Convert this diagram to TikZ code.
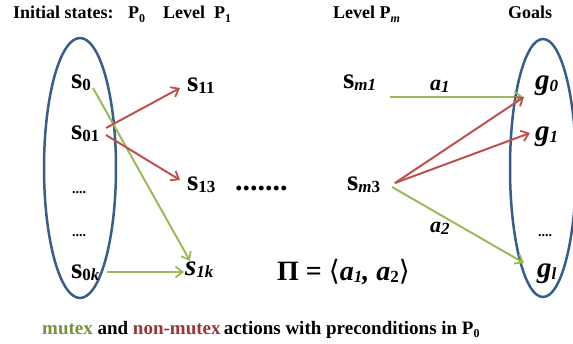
\documentclass[tikz,border=0pt]{standalone}
\usepackage{fontspec}
\setmainfont{Liberation Serif}
\newfontfamily\djv{DejaVu Sans}
\usetikzlibrary{arrows.meta,shapes.geometric,calc}
\definecolor{ogreen}{RGB}{155,187,89}
\definecolor{ored}{RGB}{192,80,77}
\definecolor{oblue}{RGB}{56,93,138}
\definecolor{tgreen}{RGB}{118,146,60}
\definecolor{tred}{RGB}{149,55,53}
\newcommand{\bigS}{\fontsize{29}{29}\selectfont}
\newcommand{\subS}[1]{\raisebox{-2.5pt}{\fontsize{17}{17}\selectfont #1}}
\newcommand{\ttl}{\fontsize{18}{18}\selectfont}
\newcommand{\ttlsub}[1]{\raisebox{-3.5pt}{\fontsize{12}{12}\selectfont #1}}
\begin{document}
\begin{tikzpicture}[x=1pt,y=-1pt,
  txt/.style={inner sep=0pt, anchor=base west, font=\bfseries},
  ell/.style={draw=oblue, line width=2.5pt, ellipse, inner sep=0pt},
  arr/.style={line width=2pt, -{Straight Barb[length=7pt,width=11pt,line width=1.8pt]}},
  garr/.style={arr, draw=ogreen},
  rarr/.style={arr, draw=ored}]
\useasboundingbox (0,0) rectangle (573,343);
% ellipses
\node[ell, minimum width=72pt, minimum height=260pt] (P0) at (80,168) {};
\node[ell, minimum width=66pt, minimum height=258pt] (G) at (543,168) {};
% title
\node[txt] (t1) at (13,18.5) {\ttl Initial states:};
\node[txt] (t2) at (128,18.5) {\ttl P\ttlsub{0}};
\node[txt] (t3) at (163,18.5) {\ttl Level\ \ P\ttlsub{1}};
\node[txt] (t4) at (333,18.5) {\ttl Level P\ttlsub{\itshape m}};
\node[txt] (t5) at (508,18.5) {\ttl Goals};
% P0 states
\node[txt] (s0) at (71,88) {\bigS s\subS{0}};
\node[txt] (s01) at (71,139) {\bigS s\subS{01}};
\node[txt] (d1) at (72,193) {\fontsize{14}{14}\selectfont ....};
\node[txt] (d2) at (72,236) {\fontsize{14}{14}\selectfont ....};
\node[txt] (s0k) at (71,278) {\bigS s\subS{0\itshape k}};
% level 1
\node[txt] (s11) at (187,91) {\bigS s\subS{11}};
\node[txt] (s13) at (187,190) {\bigS s\subS{13}};
\node[txt] (s1k) at (185,275) {\bigS\itshape s\subS{\itshape 1k}};
\node[txt] (dots) at (235,190) {\fontsize{30}{30}\selectfont .......};
% level m
\node[txt] (sm1) at (343,88) {\bigS s\subS{\itshape m1}};
\node[txt] (sm3) at (347,190) {\bigS s\subS{\itshape m\upshape 3}};
% goals
\node[txt] (g0) at (535,89) {\bigS\itshape g\subS{\itshape 0}};
\node[txt] (g1) at (535,140) {\bigS\itshape g\subS{\itshape 1}};
\node[txt] (d3) at (538,236) {\fontsize{14}{14}\selectfont ....};
\node[txt] (gl) at (537,277) {\bigS\itshape g\subS{\itshape l}};
% labels
\node[txt] (a1) at (430,90) {\fontsize{22}{22}\selectfont\itshape a\subS{\itshape 1}};
\node[txt] (a2) at (430,232) {\fontsize{22}{22}\selectfont\itshape a\subS{2}};
\node[txt] (pi) at (277,280) {\fontsize{28}{28}\selectfont Π = {\djv\mdseries ⟨}\itshape a\subS{\itshape 1}, a\subS{\upshape 2}{\djv\mdseries\upshape ⟩}};
\node[txt] (cap) at (42,334) {\fontsize{19}{19}\selectfont \textcolor{tgreen}{mutex} and \textcolor{tred}{non-mutex}\,actions with preconditions in P\ttlsub{0}};
% arrows
\draw[garr] ($(s0.base west)+(22,0)$) -- ($(s1k.base west)+(5,-14)$);
\draw[rarr] ($(s01.base west)+(35,-11)$) -- ($(s11.base west)+(-7,-3)$);
\draw[rarr] ($(s01.base west)+(35,-4)$) -- ($(s13.base west)+(-7,-10)$);
\draw[garr] ($(s0k.base west)+(36,-6)$) -- ($(s1k.base west)+(-1,-3)$);
\draw[garr] ($(sm1.base west)+(47,9)$) -- ($(g0.base west)+(-12,8)$);
\draw[rarr] ($(sm3.base west)+(48,-7)$) -- ($(g0.base west)+(-11,8)$);
\draw[rarr] ($(sm3.base west)+(48,-7)$) -- ($(g1.base west)+(-5,-7)$);
\draw[garr] ($(sm3.base west)+(45,-3)$) -- ($(gl.base west)+(-13,-14)$);
\end{tikzpicture}
\end{document}
